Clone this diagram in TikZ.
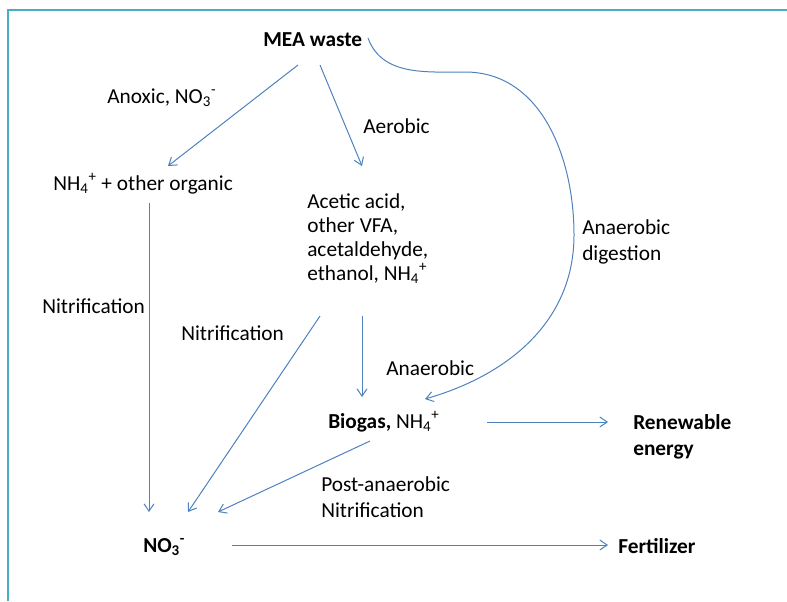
\documentclass[tikz,border=0pt]{standalone}
\usepackage{fontspec}
\setmainfont{Carlito}
\usetikzlibrary{arrows.meta}
\definecolor{flowblue}{RGB}{79,129,189}
\definecolor{frameteal}{RGB}{75,172,198}

\begin{document}
\begin{tikzpicture}[x=0.75pt,y=0.75pt,
    product/.style={inner sep=0pt,anchor=base west,align=left,
        font=\fontsize{16}{19.5}\selectfont\bfseries},
    compound/.style={inner sep=0pt,anchor=base west,align=left,
        font=\fontsize{16}{19.5}\selectfont},
    process/.style={compound},
    flow/.style={draw=flowblue,line width=0.75pt,
        -{Straight Barb[length=5.5pt,width=7.5pt]}}
]
 \useasboundingbox (0,0) rectangle (787,-601);
 \draw[frameteal,line width=1.2pt] (787,-10) -- (8,-10) -- (8,-601);

 \node[product] (mea) at (263,-46) {MEA waste};
 \node[compound] (organic) at (53,-190) {NH\textsubscript{4}\textsuperscript{+} + other organic};
 \node[compound,font=\fontsize{16}{18}\selectfont] (vfa) at (307,-280)
    {Acetic acid,\\other VFA,\\acetaldehyde,\\ethanol, NH\textsubscript{4}\textsuperscript{+}};
 \node[compound] (biogas) at (328,-428) {\textbf{Biogas,} NH\textsubscript{4}\textsuperscript{+}};
 \node[product] (energy) at (633,-455) {Renewable\\energy};
 \node[product] (nitrate) at (143,-552) {NO\textsubscript{3}\textsuperscript{-}};
 \node[product] (fertilizer) at (618,-553) {Fertilizer};

 % process labels
 \node[process] (anoxic) at (107,-103) {Anoxic, NO\textsubscript{3}\textsuperscript{-}};
 \node[process] (aerobic) at (363,-133) {Aerobic};
 \node[process] (digestion) at (582,-260) {Anaerobic\\digestion};
 \node[process] (nitrif1) at (42,-313) {Nitrification};
 \node[process] (nitrif2) at (181,-340) {Nitrification};
 \node[process] (anaerobic) at (386,-375) {Anaerobic};
 \node[process] (postnitrif) at (321,-517) {Post-anaerobic\\Nitrification};

 \draw[flow] ([shift={(35,-19)}]mea.base west) -- ([shift={(115,24)}]organic.base west);
 \draw[flow] ([shift={(57,-19)}]mea.base west) -- ([shift={(55,114)}]vfa.base west);
 \draw[flow] ([shift={(105,8)}]mea.base west) to[out=-70,in=180] (465,-72)
    to[out=0,in=90] (574,-235) to[out=-90,in=16] ([shift={(97,29)}]biogas.base west);
 \draw[flow] ([shift={(96,-13)}]organic.base west) -- ([shift={(6,40)}]nitrate.base west);
 \draw[flow] ([shift={(13,-36)}]vfa.base west) -- ([shift={(45,40)}]nitrate.base west);
 \draw[flow] ([shift={(55,-36)}]vfa.base west) -- ([shift={(34,31)}]biogas.base west);
 \draw[flow] ([shift={(159,6)}]biogas.base west) -- ([shift={(-25,33)}]energy.base west);
 \draw[flow] ([shift={(42,-13)}]biogas.base west) -- ([shift={(75,40)}]nitrate.base west);
 \draw[flow] ([shift={(89,7)}]nitrate.base west) -- ([shift={(-10,8)}]fertilizer.base west);
\end{tikzpicture}
\end{document}
